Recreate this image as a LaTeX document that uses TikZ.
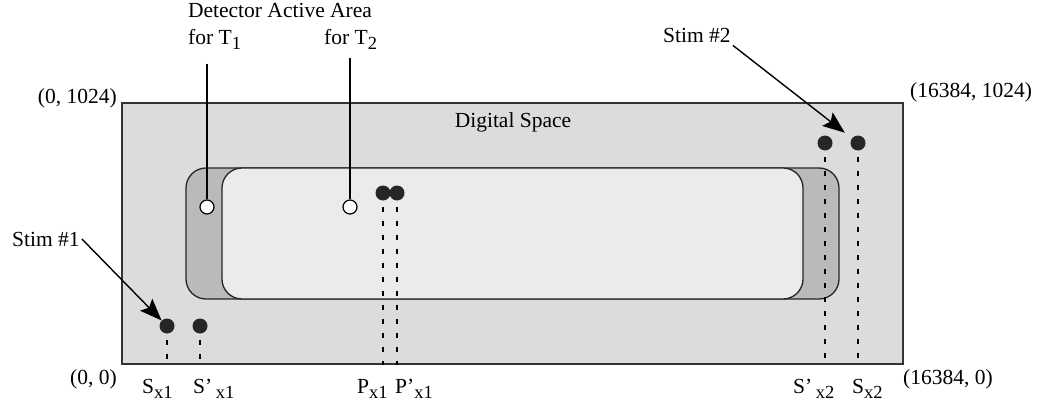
\documentclass[tikz,border=0pt]{standalone}
\usepackage{fontspec}
\setmainfont{Liberation Serif}
\usetikzlibrary{arrows.meta}
\definecolor{spacegray}{RGB}{219,220,222}
\definecolor{bandgray}{RGB}{185,186,188}
\definecolor{innergray}{RGB}{235,235,235}
\newcommand{\lowsub}[1]{\raisebox{-5pt}{\fontsize{18.5}{18.5}\selectfont #1}}

\begin{document}
\begin{tikzpicture}[x=1pt,y=-1pt,
  every node/.style={font=\fontsize{21.5}{24}\selectfont, inner sep=0pt},
  spacebox/.style={draw=black!80, line width=1.6pt, fill=spacegray,
    minimum width=781pt, minimum height=261pt},
  areabox/.style={draw=black!85, line width=1.3pt, rounded corners=20pt,
    minimum height=131pt},
  ring/.style={circle, draw, fill=white, line width=1.2pt, minimum size=14pt},
  dot/.style={circle, fill=black!85, minimum size=15pt},
  dashline/.style={line width=1.4pt, dash pattern=on 5pt off 9pt},
  pointer/.style={line width=1.2pt},
  stimarrow/.style={line width=1.4pt, -{Stealth[length=22pt,width=17pt,inset=4pt]}}]
  \useasboundingbox (0,0) rectangle (1039,404);
  % digital space and the two active areas
  \node[spacebox] (space) at (512.5,233.5) {};
  \node[areabox, fill=bandgray, minimum width=653pt] (areaone) at (512.5,233.5) {};
  \node[areabox, fill=innergray, minimum width=581pt] (areatwo) at (512.5,233.5) {};
  % detector markers
  \node[ring] (ringone) at (207,207) {};
  \node[ring] (ringtwo) at (350,207) {};
  \coordinate (topone) at (207,64);
  \coordinate (toptwo) at (350,58);
  \draw[pointer] (topone) -- (ringone);
  \draw[pointer] (toptwo) -- (ringtwo);
  % stimulus and position dots
  \node[dot] (sx1) at (167,326) {};
  \node[dot] (spx1) at (200,326) {};
  \node[dot] (px1) at (383,193) {};
  \node[dot] (ppx1) at (397,193) {};
  \node[dot] (spx2) at (825,143) {};
  \node[dot] (sx2) at (858,143) {};
  \foreach \d in {sx1,spx1,px1,ppx1,spx2,sx2}
    \draw[dashline] ([yshift=-6pt]\d.south) -- (\d |- space.south);
  % labels
  \node[anchor=base] (detector) at (280,18) {Detector Active Area};
  \node[anchor=base west] (forone) at (188,45) {for T\lowsub{1}};
  \node[anchor=base west] (fortwo) at (324,45) {for T\lowsub{2}};
  \node[anchor=base] (digital) at (513,128) {Digital Space};
  \node[anchor=base east] (topleft) at (117,103) {(0, 1024)};
  \node[anchor=base west] (topright) at (910,97) {(16384, 1024)};
  \node[anchor=base east] (botleft) at (117,384) {(0, 0)};
  \node[anchor=base west] (botright) at (903,384) {(16384, 0)};
  \node[anchor=base west, inner sep=2pt] (stimone) at (10,246) {Stim \#1};
  \node[anchor=base west, inner sep=2pt] (stimtwo) at (661,43) {Stim \#2};
  \node[anchor=base west] (lsx1) at (142,393) {S\lowsub{x1}};
  \node[anchor=base west] (lspx1) at (193,393) {S'\,\lowsub{x1}};
  \node[anchor=base west] (lpx1) at (357,393) {P\lowsub{x1}};
  \node[anchor=base west] (lppx1) at (395,393) {P'\lowsub{x1}};
  \node[anchor=base west] (lspx2) at (793,393) {S'\,\lowsub{x2}};
  \node[anchor=base west] (lsx2) at (852,393) {S\lowsub{x2}};
  % stimulus arrows
  \draw[stimarrow] (stimone.east) -- (sx1);
  \draw[stimarrow, shorten >=9pt] (stimtwo.south east) -- (sx2);
\end{tikzpicture}
\end{document}
